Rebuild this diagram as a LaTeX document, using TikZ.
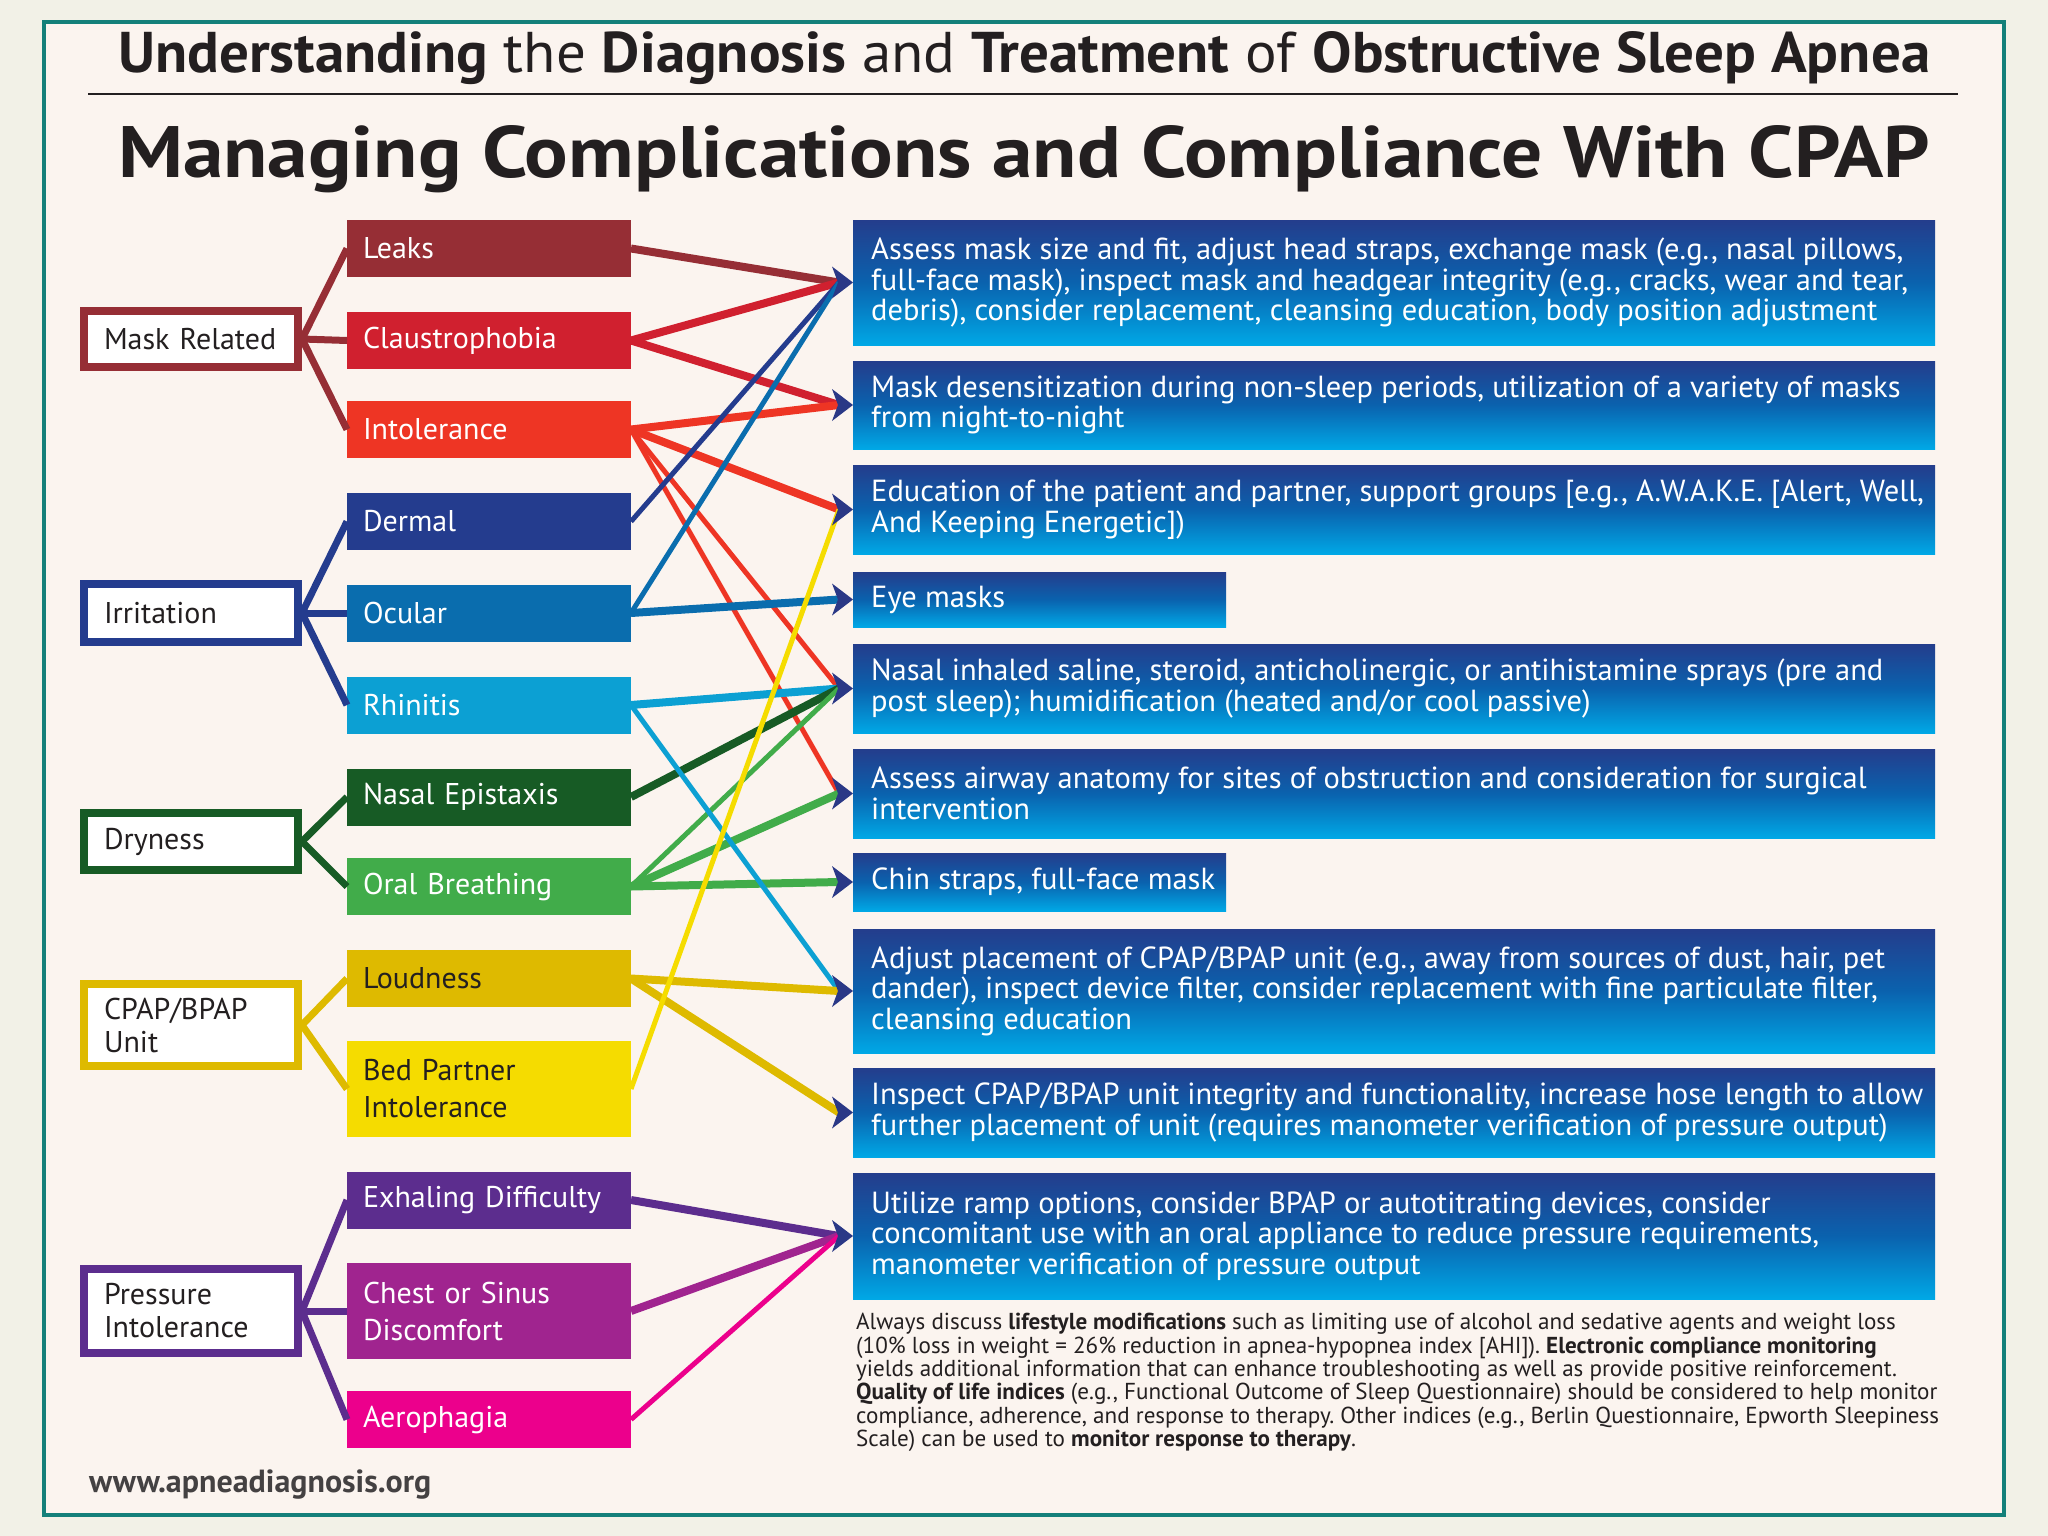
\documentclass[tikz,border=0pt]{standalone}
\usepackage{fontspec}
\setmainfont{PT Sans}
\usepackage{graphicx}
\usetikzlibrary{calc,shadings}
\definecolor{bgout}{HTML}{F2F1E7}
\definecolor{bgin}{HTML}{FBF4EF}
\definecolor{frameteal}{HTML}{14807A}
\definecolor{cmaroon}{HTML}{962E35}
\definecolor{cred}{HTML}{D0202F}
\definecolor{corange}{HTML}{EE3524}
\definecolor{cnavy}{HTML}{243C8E}
\definecolor{cocular}{HTML}{0A6DAE}
\definecolor{crhin}{HTML}{0CA0D3}
\definecolor{cdkgreen}{HTML}{175B25}
\definecolor{cgreen}{HTML}{41AC4A}
\definecolor{cgold}{HTML}{DEBA00}
\definecolor{cyellow}{HTML}{F5DC00}
\definecolor{cpurple}{HTML}{5C2D8E}
\definecolor{cmagenta}{HTML}{A0248F}
\definecolor{cpink}{HTML}{EC008C}
\definecolor{carrow}{HTML}{2A3886}
\definecolor{rtop}{HTML}{243D8C}
\definecolor{rmid}{HTML}{0A62AE}
\definecolor{rbot}{HTML}{00A8E6}
\definecolor{ink}{HTML}{231F20}
\frenchspacing
\lineskiplimit=-50pt
\begin{document}
\begin{tikzpicture}[x=1pt,y=-1pt,
  mid/.style={rectangle, minimum width=284pt, minimum height=57pt, text width=252pt,
    inner xsep=16pt, inner ysep=0pt, outer sep=0pt, align=left, text=white,
    font=\fontsize{30}{37}\selectfont},
  grp/.style={rectangle, draw, fill=white, line width=8pt, minimum width=214pt,
    minimum height=56pt, text width=174pt, inner xsep=20pt, inner ysep=0pt,
    align=left, text=ink, font=\fontsize{30}{33}\selectfont},
  rbox/.style={rectangle, inner sep=0pt, outer sep=0pt, top color=rtop,
    bottom color=rbot, middle color=rmid, minimum width=1082pt},
  rsmall/.style={rbox, minimum width=373pt},
  rtxt/.style={anchor=west, inner sep=0pt, align=left, text=white,
    font=\fontsize{30.5}{30.5}\selectfont},
  cl/.style={line width=7pt},
  ct/.style={line width=8pt},
  cn/.style={line width=5pt},
  arrowhd/.style={fill=carrow}
]
\fill[bgout] (0,0) rectangle (2048,1536);
\useasboundingbox (0,0) rectangle (2048,1536);
\draw[frameteal, line width=4.5pt, fill=bgin] (44,22) rectangle (2004,1515);

% titles
\node[anchor=base west, inner sep=0pt, text=ink] (t1) at (118,73)
  {\resizebox{1812pt}{41pt}{\fontsize{57}{60}\selectfont\textbf{Understanding} the \textbf{Diagnosis} and \textbf{Treatment} of \textbf{Obstructive Sleep Apnea}}};
\coordinate (ruleL) at (88,94);
\coordinate (ruleR) at (1958,94);
\draw[ink, line width=2.5pt] (ruleL) -- (ruleR);
\node[anchor=base west, inner sep=0pt, text=ink] (t2) at (118,177)
  {\resizebox{1812pt}{52pt}{\fontsize{74}{80}\selectfont\bfseries Managing Complications and Compliance With CPAP}};

% group boxes
\node[grp, draw=cmaroon] (gmask) at (191,339) {Mask Related};
\node[grp, draw=cnavy, minimum height=58pt] (girr) at (191,613) {Irritation};
\node[grp, draw=cdkgreen, minimum height=57pt] (gdry) at (191,841.5) {Dryness};
\node[grp, draw=cgold, minimum height=82pt] (gcpap) at (191,1025) {CPAP/BPAP\\Unit};
\node[grp, draw=cpurple, minimum height=84pt] (gpress) at (191,1311) {Pressure\\Intolerance};

% middle boxes
\node[mid, fill=cmaroon] (leaks) at (489,248.5) {Leaks};
\node[mid, fill=cred] (claus) at (489,340.5) {Claustrophobia};
\node[mid, fill=corange] (intol) at (489,429.5) {Intolerance};
\node[mid, fill=cnavy] (dermal) at (489,521.5) {Dermal};
\node[mid, fill=cocular] (ocular) at (489,613) {Ocular};
\node[mid, fill=crhin] (rhin) at (489,705) {Rhinitis};
\node[mid, fill=cdkgreen] (nasal) at (489,797) {Nasal Epistaxis};
\node[mid, fill=cgreen] (oral) at (489,886.5) {Oral Breathing};
\node[mid, fill=cgold, text=ink] (loud) at (489,978.5) {Loudness};
\node[mid, fill=cyellow, text=ink, minimum height=96pt] (bed) at (489,1089) {Bed Partner\\Intolerance};
\node[mid, fill=cpurple] (exh) at (489,1200) {Exhaling Difficulty};
\node[mid, fill=cmagenta, minimum height=96pt] (chest) at (489,1311) {Chest or Sinus\\Discomfort};
\node[mid, fill=cpink] (aero) at (489,1419.5) {Aerophagia};

% right boxes
\node[rbox, minimum height=125pt] (R1) at (1394,282.5) {};
\node[rbox, minimum height=88pt] (R2) at (1394,405) {};
\node[rbox, minimum height=89pt] (R3) at (1394,509.5) {};
\node[rsmall, minimum height=55pt] (R4) at (1039.5,599.5) {};
\node[rbox, minimum height=89pt] (R5) at (1394,688.5) {};
\node[rbox, minimum height=89pt] (R6) at (1394,793.5) {};
\node[rsmall, minimum height=58pt] (R7) at (1039.5,882) {};
\node[rbox, minimum height=124pt] (R8) at (1394,991) {};
\node[rbox, minimum height=89pt] (R9) at (1394,1112.5) {};
\node[rbox, minimum height=126pt] (R10) at (1394,1236) {};

\node[rtxt] (R1t) at ([xshift=18pt]R1.west) {Assess mask size and fit, adjust head straps, exchange mask (e.g., nasal pillows,\\full-face mask), inspect mask and headgear integrity (e.g., cracks, wear and tear,\\debris), consider replacement, cleansing education, body position adjustment};
\node[rtxt] (R2t) at ([xshift=18pt]R2.west) {Mask desensitization during non-sleep periods, utilization of a variety of masks\\from night-to-night};
\node[rtxt] (R3t) at ([xshift=18pt]R3.west) {Education of the patient and partner, support groups [e.g., A.W.A.K.E. [Alert, Well,\\And Keeping Energetic])};
\node[rtxt] (R4t) at ([xshift=18pt]R4.west) {Eye masks};
\node[rtxt] (R5t) at ([xshift=18pt]R5.west) {Nasal inhaled saline, steroid, anticholinergic, or antihistamine sprays (pre and\\post sleep); humidification (heated and/or cool passive)};
\node[rtxt] (R6t) at ([xshift=18pt]R6.west) {Assess airway anatomy for sites of obstruction and consideration for surgical\\intervention};
\node[rtxt] (R7t) at ([xshift=18pt]R7.west) {Chin straps, full-face mask};
\node[rtxt] (R8t) at ([xshift=18pt]R8.west) {Adjust placement of CPAP/BPAP unit (e.g., away from sources of dust, hair, pet\\dander), inspect device filter, consider replacement with fine particulate filter,\\cleansing education};
\node[rtxt] (R9t) at ([xshift=18pt]R9.west) {Inspect CPAP/BPAP unit integrity and functionality, increase hose length to allow\\further placement of unit (requires manometer verification of pressure output)};
\node[rtxt] (R10t) at ([xshift=18pt]R10.west) {Utilize ramp options, consider BPAP or autotitrating devices, consider\\concomitant use with an oral appliance to reduce pressure requirements,\\manometer verification of pressure output};

% arrow end points
\foreach \i in {1,...,10} {\coordinate (a\i) at ([xshift=-14pt]R\i.west);}

% left connectors
\draw[cl, cmaroon] (gmask.east) -- (leaks.west);
\draw[cl, cmaroon] (gmask.east) -- (claus.west);
\draw[cl, cmaroon] (gmask.east) -- (intol.west);
\draw[cl, cnavy] (girr.east) -- (dermal.west);
\draw[cl, cnavy] (girr.east) -- (ocular.west);
\draw[cl, cnavy] (girr.east) -- (rhin.west);
\draw[cl, cdkgreen] (gdry.east) -- (nasal.west);
\draw[cl, cdkgreen] (gdry.east) -- (oral.west);
\draw[cl, cgold] (gcpap.east) -- (loud.west);
\draw[cl, cgold] (gcpap.east) -- (bed.west);
\draw[cl, cpurple] (gpress.east) -- (exh.west);
\draw[cl, cpurple] (gpress.east) -- (chest.west);
\draw[cl, cpurple] (gpress.east) -- (aero.west);

% right connectors
\draw[ct, cmaroon] (leaks.east) -- (a1);
\draw[ct, cred] (claus.east) -- (a1);
\draw[ct, cred] (claus.east) -- (a2);
\draw[ct, corange] (intol.east) -- (a2);
\draw[ct, corange] (intol.east) -- (a3);
\draw[cn, corange] (intol.east) -- (a5);
\draw[cn, corange] (intol.east) -- (a6);
\draw[cn, cnavy] (dermal.east) -- (a1);
\draw[cn, cocular] (ocular.east) -- (a1);
\draw[ct, cocular] (ocular.east) -- (a4);
\draw[ct, crhin] (rhin.east) -- (a5);
\draw[ct, cdkgreen] (nasal.east) -- (a5);
\draw[cn, cgreen] (oral.east) -- (a5);
\draw[ct, cgreen] (oral.east) -- (a6);
\draw[ct, cgreen] (oral.east) -- (a7);
\draw[cn, crhin] (rhin.east) -- (a8);
\draw[ct, cgold] (loud.east) -- (a8);
\draw[ct, cgold] (loud.east) -- (a9);
\draw[cn, cyellow] (bed.east) -- (a3);
\draw[ct, cpurple] (exh.east) -- (a10);
\draw[ct, cmagenta] (chest.east) -- (a10);
\draw[cn, cpink] (aero.east) -- (a10);

% arrowheads
\foreach \i in {1,...,10} {
  \fill[arrowhd] (R\i.west) -- ++(-21pt,-16pt) -- ++(6pt,16pt) -- ++(-6pt,16pt) -- cycle;
}

% note
\node[anchor=north west, inner sep=0pt, align=left, text=ink,
  font=\fontsize{23.1}{23.4}\selectfont] (note) at (856,1313)
  {Always discuss \textbf{lifestyle modifications} such as limiting use of alcohol and sedative agents and weight loss\\
   (10\% loss in weight = 26\% reduction in apnea-hypopnea index [AHI]). \textbf{Electronic compliance monitoring}\\
   yields additional information that can enhance troubleshooting as well as provide positive reinforcement.\\
   \textbf{Quality of life indices} (e.g., Functional Outcome of Sleep Questionnaire) should be considered to help monitor\\
   compliance, adherence, and response to therapy. Other indices (e.g., Berlin Questionnaire, Epworth Sleepiness\\
   Scale) can be used to \textbf{monitor response to therapy}.};

% footer
\node[anchor=base west, inner sep=0pt, text=ink!85!white,
  font=\fontsize{32}{34}\selectfont\bfseries] (web) at (89,1492) {www.apneadiagnosis.org};
\end{tikzpicture}
\end{document}
